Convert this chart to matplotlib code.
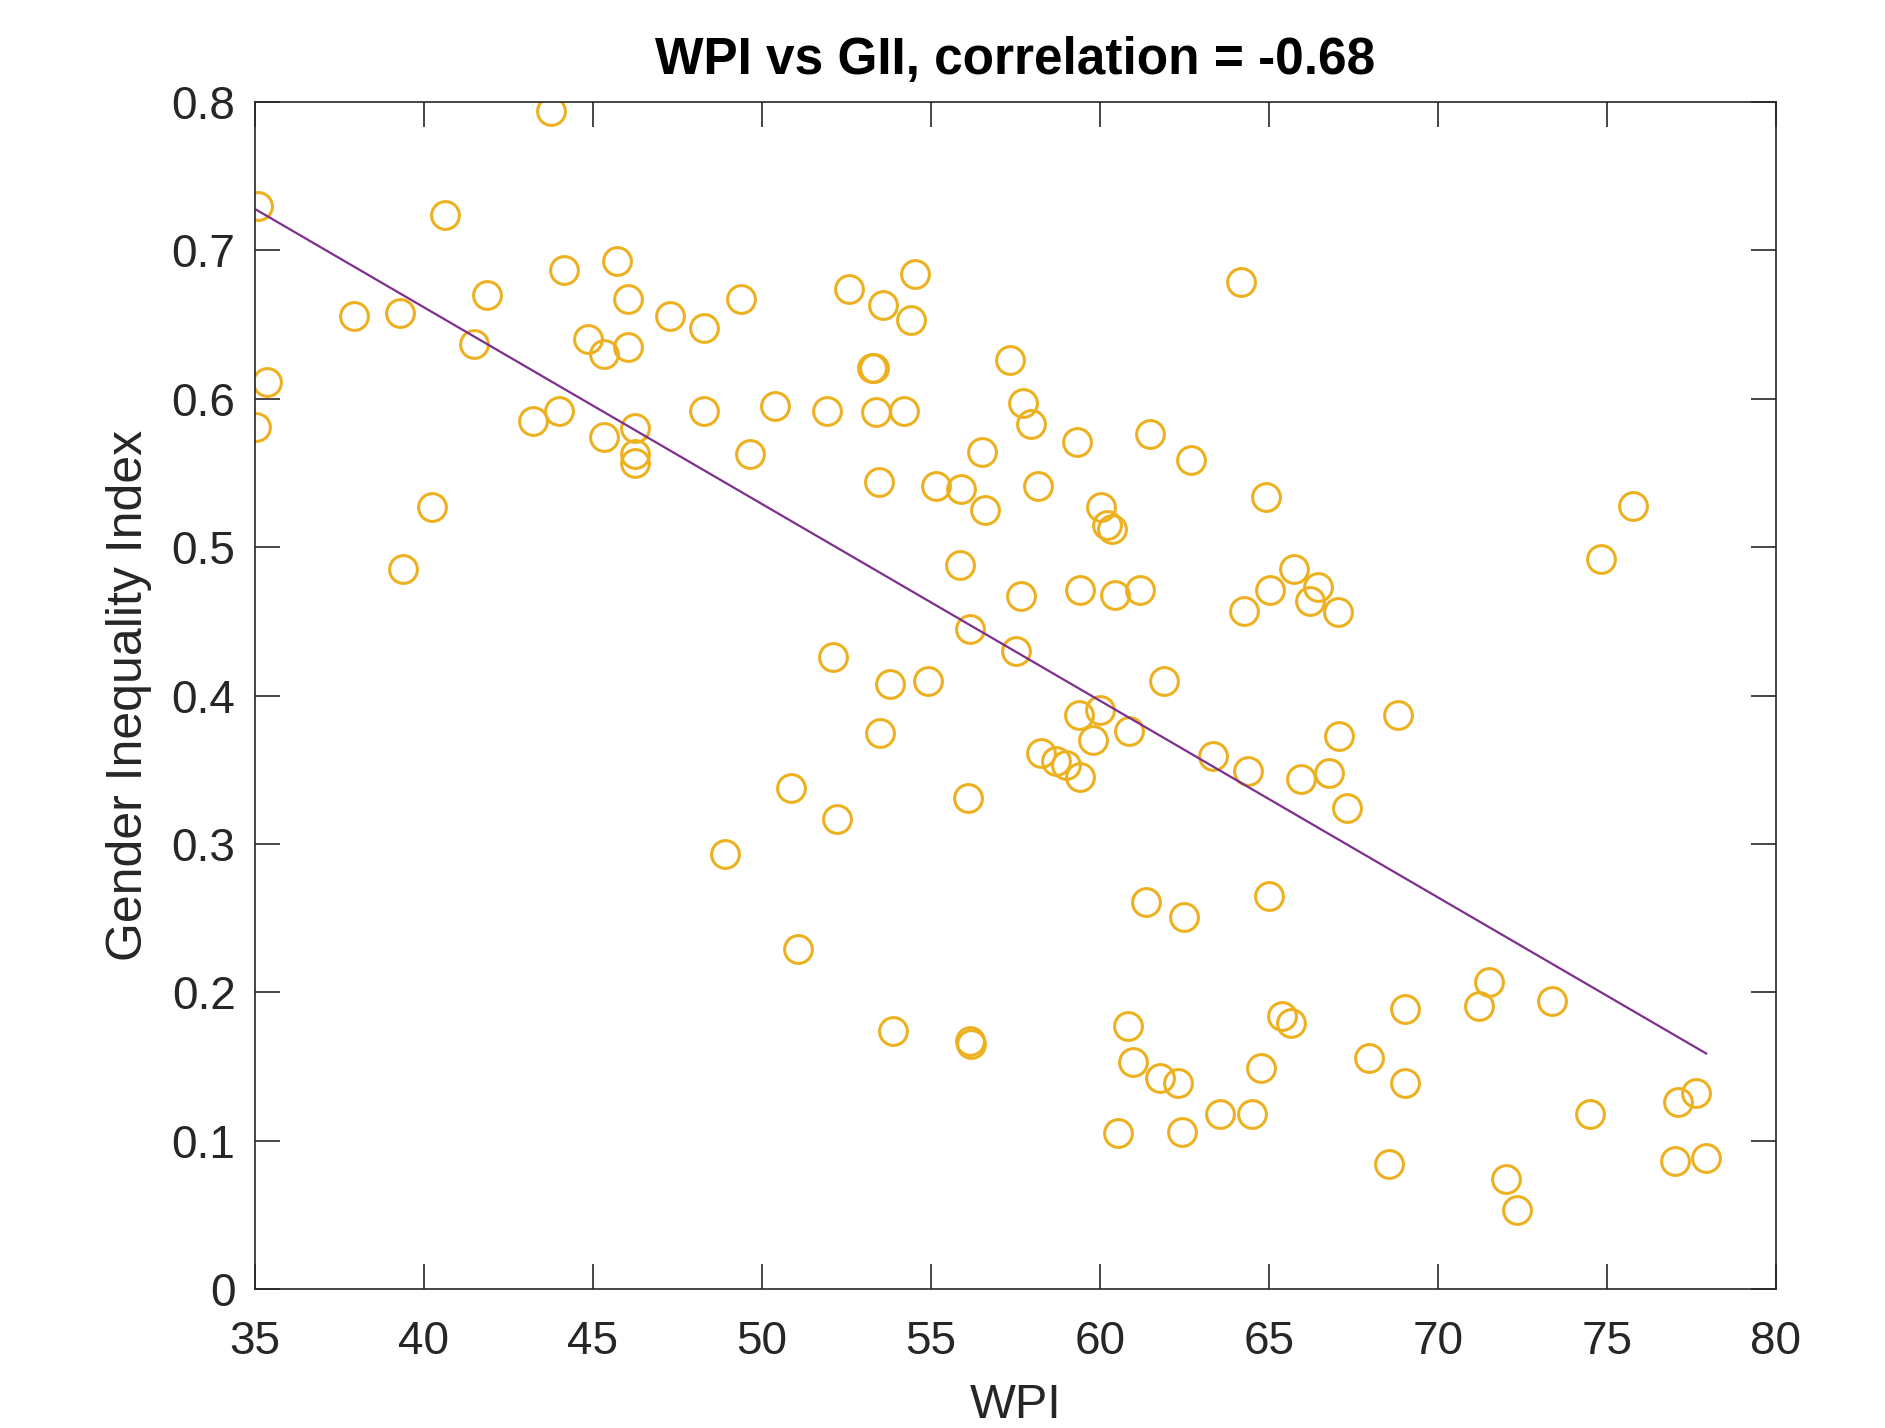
import numpy as np
import matplotlib
matplotlib.use('Agg')
import matplotlib.pyplot as plt

plt.rcParams['font.family'] = ['Liberation Sans', 'DejaVu Sans']

# WPI (x) and GII (y)
wpi = [43.75, 35.10, 40.62, 37.92, 39.30, 35.36, 35.04, 41.87, 41.47, 39.38,
       40.23, 43.22, 44.00, 44.14, 44.85, 45.32, 45.71, 46.03, 46.03, 45.32,
       46.24, 46.24, 46.24, 47.27, 48.30, 48.30, 49.37, 49.66, 48.91, 50.40,
       50.87, 51.08, 51.93, 52.57, 52.11, 52.22, 53.25, 53.32, 53.57, 53.39,
       53.46, 53.78, 53.50, 53.89, 54.53, 54.42, 54.21, 55.14, 54.92, 55.88,
       55.85, 56.17, 56.10, 56.17, 56.20, 56.52, 56.59, 57.34, 57.73, 57.95,
       58.16, 57.66, 57.52, 58.27, 58.69, 59.01, 59.40, 59.33, 59.40, 59.37,
       59.80, 60.01, 60.04, 60.22, 60.36, 60.44, 60.86, 60.54, 60.83, 60.97,
       61.18, 61.47, 61.89, 61.36, 61.79, 62.32, 62.50, 62.43, 62.71, 63.35,
       63.57, 64.17, 64.28, 64.38, 64.49, 64.78, 64.92, 65.03, 65.00, 65.38,
       65.67, 65.74, 65.95, 66.23, 66.45, 67.05, 66.77, 67.09, 67.30, 67.98,
       68.55, 68.83, 69.04, 69.04, 71.21, 71.53, 72.03, 72.35, 73.38, 74.52,
       74.84, 75.77, 77.01, 77.12, 77.65, 77.94]
gii = [0.794, 0.730, 0.724, 0.656, 0.658, 0.611, 0.581, 0.670, 0.637, 0.485,
       0.527, 0.585, 0.592, 0.687, 0.640, 0.630, 0.693, 0.667, 0.635, 0.574,
       0.580, 0.563, 0.557, 0.656, 0.648, 0.592, 0.667, 0.563, 0.293, 0.595,
       0.338, 0.229, 0.592, 0.674, 0.426, 0.317, 0.621, 0.621, 0.663, 0.591,
       0.544, 0.408, 0.375, 0.174, 0.684, 0.653, 0.592, 0.541, 0.410, 0.539,
       0.488, 0.445, 0.331, 0.167, 0.165, 0.564, 0.525, 0.626, 0.597, 0.583,
       0.541, 0.467, 0.430, 0.361, 0.356, 0.353, 0.345, 0.571, 0.471, 0.387,
       0.370, 0.390, 0.527, 0.515, 0.512, 0.468, 0.376, 0.105, 0.177, 0.153,
       0.471, 0.576, 0.410, 0.261, 0.142, 0.139, 0.251, 0.106, 0.559, 0.359,
       0.118, 0.679, 0.457, 0.349, 0.118, 0.149, 0.534, 0.471, 0.265, 0.184,
       0.179, 0.485, 0.344, 0.464, 0.473, 0.456, 0.348, 0.373, 0.324, 0.156,
       0.084, 0.387, 0.189, 0.139, 0.191, 0.207, 0.074, 0.053, 0.194, 0.118,
       0.492, 0.528, 0.086, 0.126, 0.132, 0.088]

x = np.array(wpi)
y = np.array(gii)
p = np.polyfit(x, y, 1)
xl = np.array([x.min(), x.max()])

fig = plt.figure(figsize=(18.85, 14.28), dpi=100)
ax = fig.add_axes([0.1353, 0.0973, 0.9420 - 0.1353, 0.9286 - 0.0973])

ax.plot(x, y, 'o', mfc='none', mec=(0.929, 0.694, 0.125), ms=20, mew=2.2)
ax.plot(xl, np.polyval(p, xl), color=(0.494, 0.184, 0.556), lw=1.6)

ax.set_xlim(35, 80)
ax.set_ylim(0, 0.8)
ax.set_xticks(np.arange(35, 81, 5))
ax.set_yticks(np.arange(0, 0.81, 0.1))
ax.set_yticklabels(['0', '0.1', '0.2', '0.3', '0.4', '0.5', '0.6', '0.7', '0.8'])

gray = (0.15, 0.15, 0.15)
for s in ax.spines.values():
    s.set_color(gray)
    s.set_linewidth(1.2)
ax.tick_params(direction='in', length=18, width=1.2, colors=gray,
               labelsize=33, top=True, right=True)
ax.tick_params(axis='x', pad=22)
ax.tick_params(axis='y', pad=14)

ax.set_xlabel('WPI', fontsize=35, color=gray, labelpad=14)
ax.set_ylabel('Gender Inequality Index', fontsize=36, color=gray, labelpad=14)
ax.set_title('WPI vs GII, correlation = -0.68', fontsize=37, fontweight='bold', pad=20)

fig.savefig('out.png', dpi=100)
